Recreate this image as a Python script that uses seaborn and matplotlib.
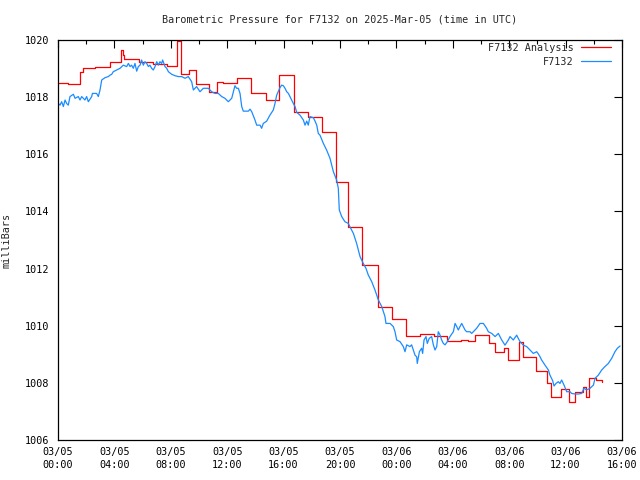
import matplotlib
matplotlib.use("Agg")
import matplotlib.pyplot as plt
import matplotlib.dates as mdates
import numpy as np
import pandas as pd
import seaborn as sns

# ---------------- data ----------------
start = pd.Timestamp("2025-03-05 00:00")

obs_hours = [0.02, 0.14, 0.26, 0.38, 0.50, 0.61, 0.73, 0.85, 1.09, 1.21, 1.44, 1.56, 1.68, 1.91, 2.03, 2.15,
             2.39, 2.44, 2.74, 2.86, 2.98, 3.10, 3.33, 3.57, 3.69, 3.81, 3.92, 4.16, 4.40, 4.63, 4.87, 4.99,
             5.11, 5.22, 5.34, 5.46, 5.58, 5.70, 5.82, 5.93, 6.05, 6.17, 6.29, 6.41, 6.52, 6.64, 6.76, 6.88,
             7.00, 7.12, 7.23, 7.35, 7.42, 7.59, 7.71, 7.83, 8.06, 8.30, 8.53, 8.77, 9.01, 9.24, 9.48, 9.60,
             9.83, 10.07, 10.31, 10.66, 10.90, 11.13, 11.37, 11.61, 11.84, 12.08, 12.32, 12.55, 12.67, 12.79,
             12.91, 13.03, 13.14, 13.50, 13.62, 13.74, 13.97, 14.09, 14.33, 14.44, 14.56, 14.80, 15.03, 15.27,
             15.39, 15.51, 15.63, 15.74, 15.86, 15.98, 16.10, 16.22, 16.34, 16.45, 16.57, 16.69, 16.81, 16.93,
             17.16, 17.40, 17.52, 17.64, 17.75, 17.87, 18.11, 18.23, 18.35, 18.46, 18.58, 18.82, 19.05, 19.29,
             19.53, 19.76, 19.88, 19.95, 20.12, 20.35, 20.59, 20.76, 20.95, 21.18, 21.42, 21.65, 21.84, 22.01,
             22.25, 22.48, 22.72, 22.96, 23.19, 23.26, 23.55, 23.78, 23.90, 24.02, 24.26, 24.49, 24.61, 24.73,
             24.96, 25.08, 25.20, 25.32, 25.44, 25.48, 25.63, 25.79, 25.86, 25.96, 26.10, 26.19, 26.33, 26.50,
             26.62, 26.74, 26.86, 26.97, 27.09, 27.21, 27.33, 27.45, 27.61, 27.80, 28.04, 28.16, 28.28, 28.39,
             28.51, 28.63, 28.87, 28.98, 29.22, 29.34, 29.46, 29.69, 29.93, 30.17, 30.40, 30.52, 30.76, 31.00,
             31.23, 31.47, 31.70, 31.94, 32.06, 32.29, 32.53, 32.65, 32.77, 33.00, 33.24, 33.48, 33.71, 33.95,
             34.07, 34.18, 34.30, 34.54, 34.78, 34.89, 35.08, 35.18, 35.32, 35.48, 35.60, 35.72, 35.89, 36.08,
             36.31, 36.43, 36.67, 36.90, 37.14, 37.30, 37.49, 37.73, 37.97, 38.09, 38.32, 38.56, 38.79, 39.03,
             39.27, 39.50, 39.67, 39.86]
obs_mbar = [1017.78, 1017.72, 1017.84, 1017.67, 1017.90, 1017.78, 1017.72, 1018.02, 1018.10, 1017.96, 1018.02,
            1017.90, 1018.02, 1017.90, 1018.02, 1017.84, 1018.02, 1018.13, 1018.13, 1018.02, 1018.25, 1018.60,
            1018.68, 1018.72, 1018.77, 1018.80, 1018.89, 1018.95, 1019.01, 1019.12, 1019.07, 1019.18, 1019.07,
            1019.12, 1019.01, 1019.18, 1018.91, 1019.07, 1019.12, 1019.30, 1019.12, 1019.24, 1019.18, 1019.07,
            1019.12, 1019.01, 1018.95, 1019.07, 1019.24, 1019.12, 1019.24, 1019.18, 1019.30, 1019.07, 1019.01,
            1018.89, 1018.80, 1018.75, 1018.72, 1018.72, 1018.66, 1018.72, 1018.54, 1018.25, 1018.37, 1018.19,
            1018.31, 1018.31, 1018.19, 1018.13, 1018.13, 1018.02, 1017.96, 1017.84, 1017.96, 1018.40, 1018.31,
            1018.31, 1018.13, 1017.67, 1017.51, 1017.51, 1017.58, 1017.49, 1017.20, 1017.02, 1017.02, 1016.91,
            1017.08, 1017.16, 1017.37, 1017.55, 1017.78, 1018.07, 1018.21, 1018.33, 1018.42, 1018.40, 1018.31,
            1018.19, 1018.13, 1018.02, 1017.90, 1017.78, 1017.67, 1017.47, 1017.37, 1017.20, 1017.02, 1017.16,
            1017.02, 1017.32, 1017.28, 1017.16, 1017.02, 1016.73, 1016.67, 1016.38, 1016.15, 1015.86, 1015.39,
            1015.10, 1014.81, 1014.05, 1013.82, 1013.64, 1013.58, 1013.41, 1013.23, 1012.88, 1012.42, 1012.18,
            1012.01, 1011.77, 1011.54, 1011.25, 1010.90, 1010.67, 1010.32, 1010.08, 1010.08, 1009.97, 1009.79,
            1009.50, 1009.44, 1009.27, 1009.09, 1009.33, 1009.27, 1009.33, 1009.15, 1008.97, 1008.91, 1008.68,
            1009.09, 1009.21, 1009.03, 1009.50, 1009.62, 1009.38, 1009.56, 1009.62, 1009.33, 1009.15, 1009.27,
            1009.79, 1009.68, 1009.50, 1009.38, 1009.33, 1009.44, 1009.62, 1009.79, 1010.08, 1009.97, 1009.85,
            1009.97, 1010.08, 1009.85, 1009.79, 1009.79, 1009.73, 1009.79, 1009.91, 1010.08, 1010.08, 1009.91,
            1009.79, 1009.73, 1009.62, 1009.73, 1009.50, 1009.32, 1009.50, 1009.62, 1009.50, 1009.67, 1009.55,
            1009.44, 1009.32, 1009.27, 1009.15, 1009.03, 1009.09, 1009.01, 1008.92, 1008.80, 1008.62, 1008.45,
            1008.27, 1008.08, 1007.89, 1007.98, 1008.04, 1007.98, 1008.10, 1007.92, 1007.69, 1007.69, 1007.63,
            1007.61, 1007.61, 1007.63, 1007.81, 1007.75, 1007.81, 1007.92, 1008.16, 1008.27, 1008.45, 1008.57,
            1008.68, 1008.86, 1009.09, 1009.21, 1009.29]

analysis_hours = [0.00, 0.69, 1.56, 1.75, 2.62, 3.69, 4.47, 4.60, 4.70, 5.74, 6.71, 7.71, 8.42, 8.70, 9.30,
                  9.80, 10.70, 11.25, 11.73, 12.67, 13.70, 14.73, 15.67, 16.75, 17.70, 18.70, 19.70, 20.55,
                  21.55, 22.70, 23.72, 24.70, 25.70, 26.70, 27.60, 28.60, 29.10, 29.60, 30.60, 31.00, 31.60,
                  31.95, 32.70, 32.95, 33.90, 34.70, 34.95, 35.70, 36.25, 36.70, 37.20, 37.45, 37.65, 38.15,
                  38.60]
analysis_mbar = [1018.48, 1018.45, 1018.87, 1019.01, 1019.04, 1019.22, 1019.65, 1019.47, 1019.33, 1019.22,
                 1019.15, 1019.10, 1019.98, 1018.80, 1018.95, 1018.45, 1018.19, 1018.54, 1018.48, 1018.66,
                 1018.13, 1017.90, 1018.78, 1017.47, 1017.32, 1016.77, 1015.04, 1013.47, 1012.12, 1010.67,
                 1010.22, 1009.64, 1009.71, 1009.64, 1009.46, 1009.50, 1009.46, 1009.67, 1009.40, 1009.09,
                 1009.21, 1008.80, 1009.44, 1008.89, 1008.42, 1007.98, 1007.51, 1007.77, 1007.32, 1007.69,
                 1007.87, 1007.51, 1008.16, 1008.10, 1008.04]

title = "Barometric Pressure for F7132 on 2025-Mar-05 (time in UTC)"
ylabel = "milliBars"
series_names = ["F7132 Analysis", "F7132"]

# ---------------- frames ----------------
df_obs = pd.DataFrame({"time": start + pd.to_timedelta(obs_hours, unit="h"), "mbar": obs_mbar})
df_ana = pd.DataFrame({"time": start + pd.to_timedelta(analysis_hours, unit="h"), "mbar": analysis_mbar})

# ---------------- plot ----------------
sns.set_theme(style="white")
plt.rcParams["font.family"] = ["DejaVu Sans Mono"]
FS = 7.3

fig = plt.figure(figsize=(6.4, 4.8), dpi=100)
ax = fig.add_axes([58 / 640, 40 / 480, 564 / 640, 400 / 480])

sns.lineplot(data=df_ana, x="time", y="mbar", ax=ax, color="#ff0000", linewidth=0.9,
             drawstyle="steps-post", estimator=None, sort=False, label=series_names[0])
sns.lineplot(data=df_obs, x="time", y="mbar", ax=ax, color="#1a8cff", linewidth=0.9,
             estimator=None, sort=False, label=series_names[1])

ax.set_xlim(start, start + pd.Timedelta(hours=40))
ax.set_ylim(1006, 1020)
ax.set_yticks(np.arange(1006, 1021, 2))
ax.xaxis.set_major_locator(mdates.HourLocator(byhour=range(0, 24, 4)))
ax.xaxis.set_minor_locator(mdates.HourLocator(byhour=range(0, 24, 2)))
ax.xaxis.set_major_formatter(mdates.DateFormatter("%m/%d\n%H:%M"))

ax.tick_params(axis="both", which="both", direction="in", top=True, right=True,
               labelsize=FS, colors="black", width=0.8)
ax.tick_params(axis="both", which="major", length=6)
ax.tick_params(axis="x", which="major", pad=5)
ax.tick_params(axis="y", which="major", pad=6)
ax.tick_params(axis="x", which="minor", length=3)
for lab in ax.get_xticklabels():
    lab.set_linespacing(1.35)

for sp in ax.spines.values():
    sp.set_color("black")
    sp.set_linewidth(0.9)

ax.set_xlabel("")
ax.set_ylabel(ylabel, fontsize=FS)
ax.yaxis.set_label_coords((12 - 58) / 564, 0.5)

fig.text(340 / 640, 1 - 19 / 480, title, ha="center", va="center", fontsize=FS)

leg = ax.legend(loc="upper right", bbox_to_anchor=((611 - 58) / 564, 1 - 3 / 400),
                frameon=False, markerfirst=False, fontsize=FS, handlelength=3.0,
                handletextpad=0.7, labelspacing=0.35, borderpad=0, borderaxespad=0)

fig.savefig("out.png", dpi=100, facecolor="white")
